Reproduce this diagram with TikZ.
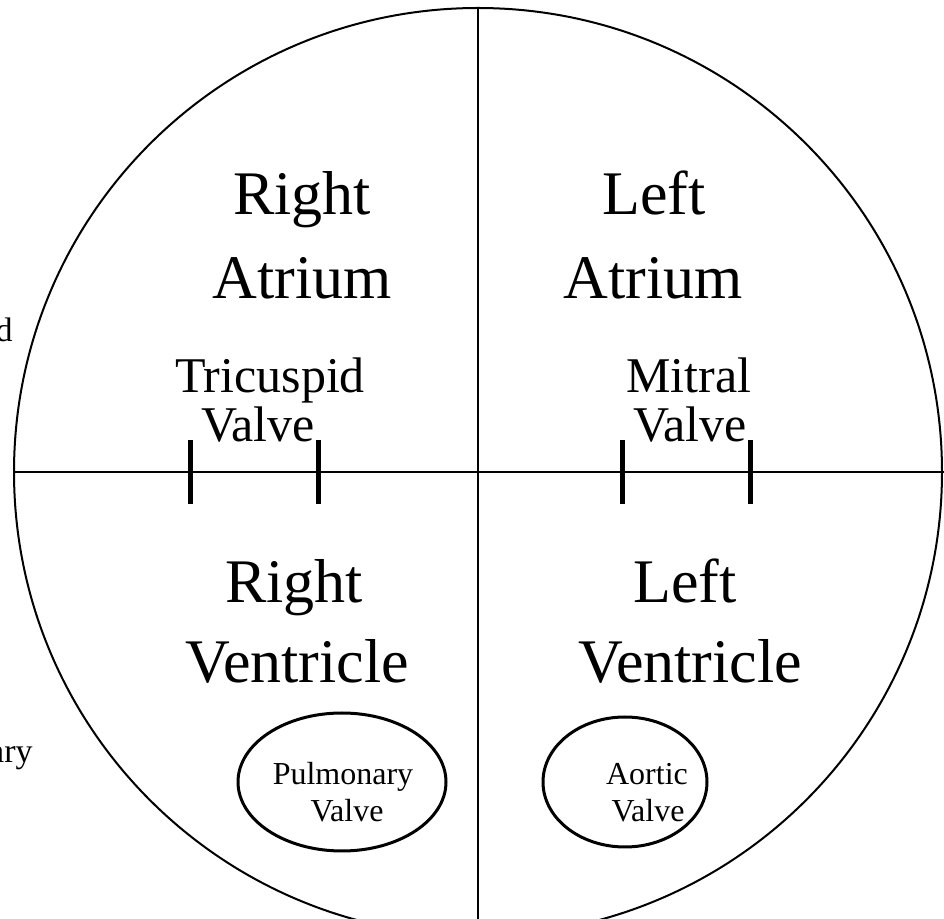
\documentclass[tikz,border=0pt]{standalone}
\usepackage{fontspec}
\setmainfont{Liberation Serif}
\usetikzlibrary{shapes.geometric}
\tikzset{
  chamber/.style={font=\fontsize{31}{37}\selectfont,inner sep=0pt,anchor=base},
  valvename/.style={font=\fontsize{25}{30}\selectfont,inner sep=0pt,anchor=base},
  smalllabel/.style={font=\fontsize{16}{19}\selectfont,inner sep=0pt,anchor=base},
  valvetick/.style={line width=2.5pt},
  valvering/.style={draw,ellipse,line width=1.5pt,inner sep=0pt},
}

\begin{document}
\begin{tikzpicture}[x=0.5pt,y=-0.5pt]
\clip (0,0) rectangle (944,919);
\coordinate (heart) at (478,472);
\coordinate (west) at (14,472);
\coordinate (east) at (946,472);
\coordinate (top) at (478,8);
\coordinate (bottom) at (478,925);
% outline and septum
\draw[line width=1pt] (heart) circle[radius=464];
\draw[line width=0.9pt] (west) -- (east);
\draw[line width=0.9pt] (top) -- (bottom);
% chambers
\node[chamber] (ra1) at (302,215) {Right};
\node[chamber] (ra2) at (302,299) {Atrium};
\node[chamber] (la1) at (654,215) {Left};
\node[chamber] (la2) at (653,299) {Atrium};
\node[chamber] (rv1) at (294,603) {Right};
\node[chamber] (rv2) at (297,683) {Ventricle};
\node[chamber] (lv1) at (685,603) {Left};
\node[chamber] (lv2) at (690,683) {Ventricle};
% atrioventricular valves
\node[valvename] (tri1) at (270,393) {Tricuspid};
\node[valvename] (tri2) at (258,442) {Valve};
\node[valvename] (mit1) at (689,393) {Mitral};
\node[valvename] (mit2) at (690,442) {Valve};
\draw[valvetick] (190,440) -- (190,504);
\draw[valvetick] (318,440) -- (318,504);
\draw[valvetick] (622,440) -- (622,504);
\draw[valvetick] (750,440) -- (750,504);
% semilunar valves
\node[valvering,minimum width=104pt,minimum height=69pt] (pulm) at (342,782) {};
\node[valvering,minimum width=82pt,minimum height=65pt] (aort) at (625,782) {};
\node[smalllabel] (pul1) at (343,785) {Pulmonary};
\node[smalllabel] (pul2) at (347,822) {Valve};
\node[smalllabel] (aor1) at (647,785) {Aortic};
\node[smalllabel] (aor2) at (648,822) {Valve};
% cut-off labels at the left edge
\node[smalllabel,anchor=base east,font=\fontsize{17}{20}\selectfont] (frag1) at (13,342) {d};
\node[smalllabel,anchor=base east,font=\fontsize{17}{20}\selectfont] (frag2) at (33,763) {ary};
\end{tikzpicture}
\end{document}
